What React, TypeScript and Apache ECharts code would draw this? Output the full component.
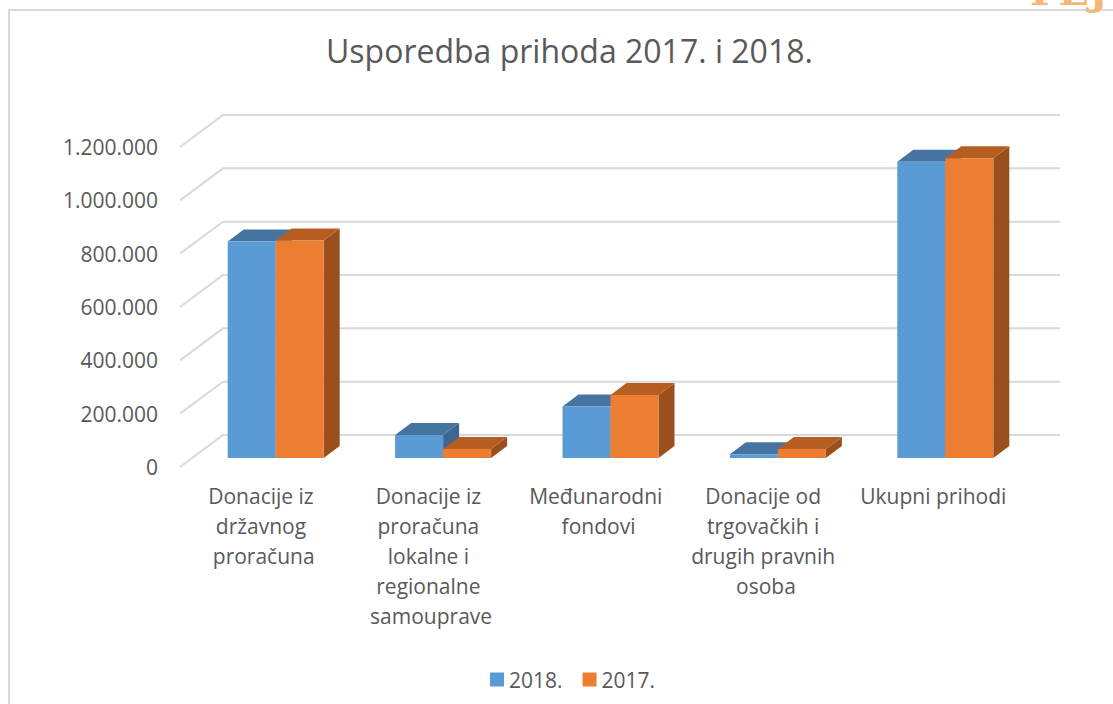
import React, { useEffect, useRef } from "react";
import * as echarts from "echarts";

const title = "Usporedba prihoda 2017. i 2018.";
const categories = [
  "Donacije iz državnog proračuna",
  "Donacije iz proračuna lokalne i regionalne samouprave",
  "Međunarodni fondovi",
  "Donacije od trgovačkih i drugih pravnih osoba",
  "Ukupni prihodi",
];
const seriesNames = ["2018.", "2017."];
const values2018 = [812000, 86000, 193000, 14000, 1111000];
const values2017 = [816000, 34000, 236000, 34000, 1124000];
const yTicks = [0, 200000, 400000, 600000, 800000, 1000000, 1200000];

const FONT = "Open Sans";
const TEXT = "#595959";
const GRID_COLOR = "#d9d9d9";
// oblique depth of floor (full), bar front offset and bar depth
const DEPTH = { dx: 43, dy: -32 };
const BAR_OFF = { dx: 12, dy: -9 };
const BAR_DEPTH = { dx: 16, dy: -12 };
const BAR_W = 48;

const palettes = [
  { front: "#5b9bd5", top: "#4674a1", side: "#3d6790" },
  { front: "#ed7d31", top: "#b65e21", side: "#9a4f1c" },
];

const fmt = (v: number) => String(v).replace(/\B(?=(\d{3})+(?!\d))/g, ".");

function barSeries(idx: number, values: number[]) {
  const pal = palettes[idx];
  return {
    type: "custom",
    name: seriesNames[idx],
    color: pal.front,
    data: values.map((v, i) => [i, v]),
    z: 3 + idx,
    renderItem: (params: any, api: any) => {
      const i = api.value(0);
      const v = api.value(1);
      const base = api.coord([i, 0]);
      const top = api.coord([i, v]);
      const cx = base[0] + BAR_OFF.dx;
      const x0 = idx === 0 ? cx - BAR_W : cx;
      const x1 = x0 + BAR_W;
      const yb = base[1] + BAR_OFF.dy;
      const yt = top[1] + BAR_OFF.dy;
      const h = yb - yt;
      const { dx, dy } = BAR_DEPTH;
      return {
        type: "group",
        children: [
          {
            type: "polygon",
            shape: { points: [[x1, yb], [x1 + dx, yb + dy], [x1 + dx, yt + dy], [x1, yt]] },
            style: { fill: pal.side },
          },
          {
            type: "polygon",
            shape: { points: [[x0, yt], [x0 + dx, yt + dy], [x1 + dx, yt + dy], [x1, yt]] },
            style: { fill: pal.top },
          },
          {
            type: "rect",
            shape: { x: x0, y: yt, width: BAR_W, height: h },
            style: { fill: pal.front },
          },
        ],
      };
    },
  };
}

export default function App() {
  const ref = useRef<HTMLDivElement>(null);
  useEffect(() => {
    if (!ref.current) return;
    const chart = echarts.init(ref.current, undefined, { renderer: "svg" });
    chart.setOption({
      animation: false,
      backgroundColor: "#ffffff",
      textStyle: { fontFamily: FONT },
      title: {
        text: title,
        left: 321,
        top: 29,
        textStyle: { fontFamily: FONT, fontSize: 32, fontWeight: "normal", color: TEXT },
      },
      legend: {
        data: seriesNames,
        left: 485,
        top: 664,
        icon: "rect",
        itemWidth: 14,
        itemHeight: 14,
        itemGap: 20,
        textStyle: { fontFamily: FONT, fontSize: 21, color: TEXT },
      },
      grid: { left: 180, right: 96, top: 147, bottom: 237 },
      xAxis: {
        type: "category",
        data: categories,
        axisLine: { show: false },
        axisTick: { show: false },
        splitLine: { show: false },
        axisLabel: {
          interval: 0,
          margin: 14,
          width: 156,
          overflow: "break",
          lineHeight: 30,
          fontFamily: FONT,
          fontSize: 21,
          color: TEXT,
        },
      },
      yAxis: {
        type: "value",
        min: 0,
        max: 1200000,
        interval: 200000,
        axisLine: { show: false },
        axisTick: { show: false },
        splitLine: { show: false },
        axisLabel: {
          margin: 22,
          fontFamily: FONT,
          fontSize: 21,
          color: TEXT,
          formatter: (v: number) => fmt(v),
        },
      },
      graphic: [
        {
          type: "rect",
          shape: { x: 9, y: 10, width: 1200, height: 800 },
          style: { fill: "#ffffff", stroke: GRID_COLOR, lineWidth: 2 },
          z: -10,
          silent: true,
        },
        {
          type: "text",
          left: 1030,
          top: -30,
          silent: true,
          style: { text: "FEJ", fontSize: 40, fontWeight: "bold", fontFamily: "DejaVu Serif", fill: "#f7b676" },
          z: -5,
        },
      ],
      series: [
        {
          type: "custom",
          name: "grid",
          data: yTicks.map((v) => [0, v]),
          z: 1,
          silent: true,
          renderItem: (params: any, api: any) => {
            const cs = params.coordSys;
            const y = api.coord([0, api.value(1)])[1];
            const xl = cs.x;
            const xr = cs.x + cs.width;
            return {
              type: "polyline",
              shape: {
                points: [
                  [xl, y],
                  [xl + DEPTH.dx, y + DEPTH.dy],
                  [xr + DEPTH.dx, y + DEPTH.dy],
                ],
              },
              style: { stroke: GRID_COLOR, lineWidth: 2, fill: "none" },
            };
          },
        },
        barSeries(0, values2018),
        barSeries(1, values2017),
      ],
    });
    return () => chart.dispose();
  }, []);
  return (
    <div
      ref={ref}
      style={{ position: "absolute", left: 0, top: 0, width: 1113, height: 704 }}
    />
  );
}
